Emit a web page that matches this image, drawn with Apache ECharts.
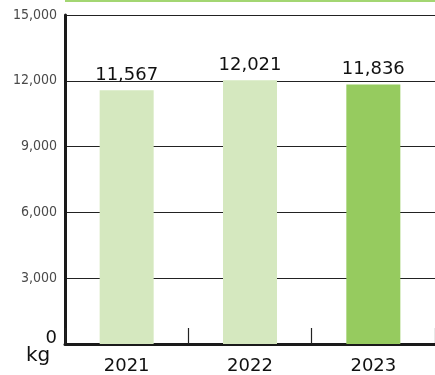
<!DOCTYPE html>
<html><head><meta charset="utf-8">
<script src="https://cdn.jsdelivr.net/npm/echarts@6/dist/echarts.min.js"></script>
<style>html,body{margin:0;padding:0;background:#fff}#c{width:435px;height:375px}</style>
</head><body><div id="c"></div>
<script>
var categories = ['2021', '2022', '2023'];
var values = [11567, 12021, 11836];
var barColors = ['#d5e8bf', '#d5e8bf', '#96cb5f'];
var yTicks = [0, 3000, 6000, 9000, 12000, 15000];
var unitLabel = 'kg';

var chart = echarts.init(document.getElementById('c'));
function fmt(v){ return v.toString().replace(/\B(?=(\d{3})+(?!\d))/g, ','); }
chart.setOption({
  animation: false,
  backgroundColor: '#fff',
  grid: { left: 65, right: 0, top: 15, bottom: 30, containLabel: false },
  graphic: [
    { type: 'rect', left: 65, top: 0, shape: { width: 370, height: 2 }, style: { fill: '#a3d672' }, z: 10 },
    { type: 'text', left: 26, top: 346, style: { text: unitLabel, fill: '#111', font: '20px "DejaVu Sans"' }, z: 10 }
  ],
  xAxis: {
    type: 'category', data: categories,
    axisLine: { lineStyle: { color: '#1a1a1a', width: 3 } },
    axisTick: { show: true, inside: true, length: 16, lineStyle: { color: '#222', width: 1.2 } },
    axisLabel: { color: '#111', fontSize: 18, fontFamily: 'DejaVu Sans', margin: 13 }
  },
  yAxis: {
    type: 'value', min: yTicks[0], max: yTicks[yTicks.length-1], interval: 3000,
    axisLine: { show: true, lineStyle: { color: '#1a1a1a', width: 3 } },
    axisTick: { show: false },
    splitLine: { lineStyle: { color: '#222', width: 1 } },
    axisLabel: {
      margin: 8, color: '#4a4a4a', fontSize: 14, fontFamily: 'DejaVu Sans Condensed, DejaVu Sans',
      formatter: function(v){ return v === 0 ? '{z|0}' : fmt(v); },
      rich: { z: { fontSize: 18, color: '#111', fontFamily: 'DejaVu Sans', padding: [0, 0, 12, 0] } }
    }
  },
  series: [{
    type: 'bar', barWidth: 54, z: 3,
    data: values.map(function(v, i){ return { value: v, itemStyle: { color: barColors[i] } }; }),
    label: { show: true, position: 'top', distance: 6, color: '#111', fontSize: 18, fontFamily: 'DejaVu Sans',
      formatter: function(p){ return fmt(p.value); } }
  }]
});
</script>
</body></html>
